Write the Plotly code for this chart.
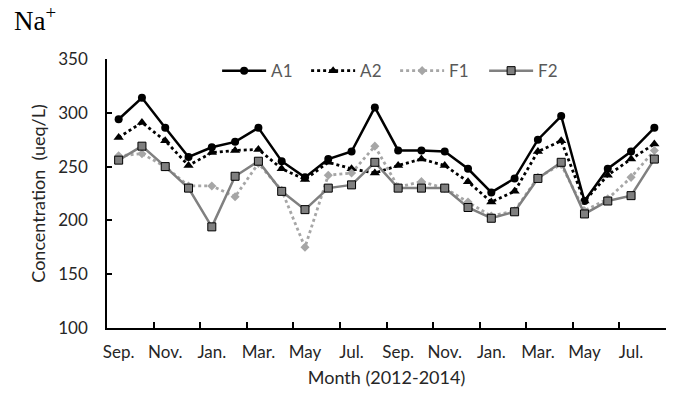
import plotly.graph_objects as go

# Monthly sampling, Sep 2012 – Aug 2014
months = ["Sep.", "Oct.", "Nov.", "Dec.", "Jan.", "Feb.", "Mar.", "Apr.", "May", "Jun.", "Jul.", "Aug.",
          "Sep.", "Oct.", "Nov.", "Dec.", "Jan.", "Feb.", "Mar.", "Apr.", "May", "Jun.", "Jul.", "Aug."]

# Na+ concentration (ueq/L) at each site
a1 = [294, 314, 286, 259, 268, 273, 286, 255, 240, 257, 264, 305,
      265, 265, 264, 248, 226, 239, 275, 297, 218, 248, 264, 286]
a2 = [277, 291, 274, 251, 263, 265, 266, 248, 238, 254, 248, 244,
      251, 257, 251, 236, 217, 227, 264, 274, 218, 242, 257, 271]
f1 = [260, 262, 250, 232, 232, 222, 253, 228, 175, 242, 244, 269,
      231, 236, 230, 217, 204, 209, 240, 252, 209, 220, 240, 265]
f2 = [256, 269, 250, 230, 194, 241, 255, 227, 210, 230, 233, 254,
      230, 230, 230, 212, 202, 208, 239, 254, 206, 218, 223, 257]

x = list(range(len(months)))
label_idx = x[::2]
tick_bounds = [i - 0.5 for i in x[::2]] + [len(months) - 0.5]

fig = go.Figure()
fig.add_trace(go.Scatter(x=x, y=a1, name="A1", mode="lines+markers",
                         line=dict(color="black", width=2.5),
                         marker=dict(symbol="circle", size=8, color="black")))
fig.add_trace(go.Scatter(x=x, y=a2, name="A2", mode="lines+markers",
                         line=dict(color="black", width=2.8, dash="dot"),
                         marker=dict(symbol="triangle-up", size=9, color="black")))
fig.add_trace(go.Scatter(x=x, y=f1, name="F1", mode="lines+markers",
                         line=dict(color="#A6A6A6", width=2.8, dash="dot"),
                         marker=dict(symbol="diamond", size=7, color="#A6A6A6")))
fig.add_trace(go.Scatter(x=x, y=f2, name="F2", mode="lines+markers",
                         line=dict(color="#808080", width=2.5),
                         marker=dict(symbol="square", size=8, color="#7F7F7F",
                                     line=dict(color="black", width=1))))

# invisible trace carrying the category-boundary tick marks
fig.add_trace(go.Scatter(x=[x[0]], y=[None], xaxis="x2", showlegend=False, hoverinfo="skip"))

font = "Lato, 'Open Sans', sans-serif"
fig.update_layout(
    width=678, height=396,
    margin=dict(l=107, r=12, t=59, b=68),
    paper_bgcolor="white", plot_bgcolor="white",
    font=dict(family=font, size=17, color="#262626"),
    xaxis=dict(range=[-0.5, len(months) - 0.5], tickmode="array", tickvals=label_idx,
               ticktext=[months[i] for i in label_idx], ticks="", showgrid=False,
               zeroline=False, showline=True, linecolor="black", linewidth=1.5,
               ticklabelstandoff=8,
               tickfont=dict(size=17, color="#262626"),
               title=dict(text="Month (2012-2014)", standoff=10,
                          font=dict(size=18, color="#262626"))),
    xaxis2=dict(range=[-0.5, len(months) - 0.5], overlaying="x", anchor="y", side="bottom",
                tickmode="array", tickvals=tick_bounds, ticks="inside", ticklen=6,
                tickwidth=1.5, tickcolor="black", showticklabels=False, showgrid=False,
                zeroline=False, showline=False),
    yaxis=dict(range=[100, 350], tickmode="linear", tick0=100, dtick=50,
               ticks="inside", ticklen=5, tickwidth=1.5, tickcolor="black",
               showgrid=False, zeroline=False, showline=True, linecolor="black",
               linewidth=1.5, ticklabelstandoff=14,
               tickfont=dict(size=17, color="#262626"),
               title=dict(text="Concentration  (ueq/L)", standoff=8,
                          font=dict(size=18, color="#262626"))),
    legend=dict(orientation="h", x=0.197, xanchor="left", y=0.955, yanchor="middle",
                entrywidth=30, entrywidthmode="pixels", itemwidth=44,
                bgcolor="rgba(0,0,0,0)",
                font=dict(size=17, color="#595959"), tracegroupgap=0),
    annotations=[dict(text="Na<sup>+</sup>", xref="paper", yref="paper",
                      x=-0.17, y=1.22, xanchor="left", yanchor="top", showarrow=False,
                      font=dict(family="'Liberation Serif', serif", size=27, color="black"))],
)

fig.write_html("out.html")
